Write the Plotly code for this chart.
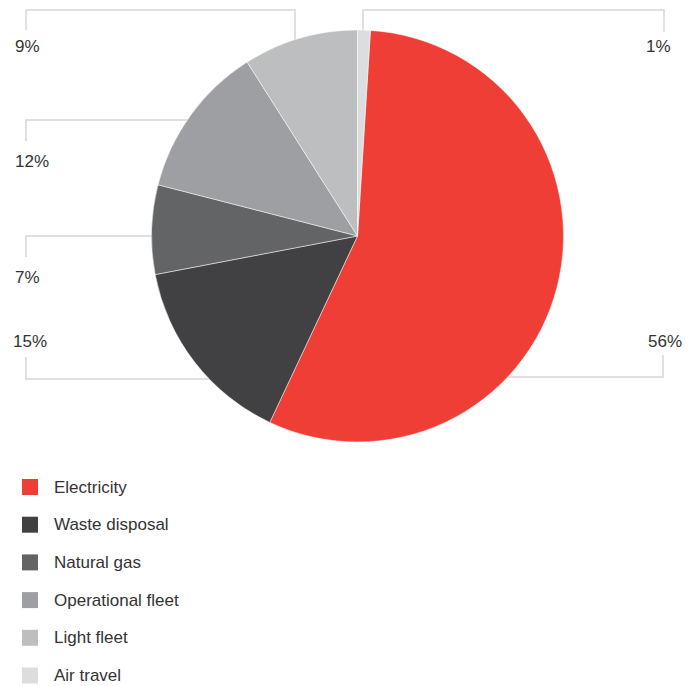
import plotly.graph_objects as go

# Emission sources, shares (%) and slice colours
categories = ["Electricity", "Waste disposal", "Natural gas",
              "Operational fleet", "Light fleet", "Air travel"]
shares = [56, 15, 7, 12, 9, 1]
colors = ["#ef3e36", "#414042", "#636466", "#9d9fa2", "#bcbec0", "#dcdddf"]

W, H = 697, 686
TEXT = "#333333"
LINE = "#d6d6d6"
FONT = "Liberation Sans, Arial, sans-serif"


def px(x):
    return x / W


def py(y):
    return 1 - y / H


# Pie placement (pixels)
cx, cy, r = 357.5, 236, 206

fig = go.Figure()
fig.add_trace(go.Pie(
    labels=categories,
    values=shares,
    sort=False,
    direction="clockwise",
    rotation=shares[-1] * 3.6,
    marker=dict(colors=colors, line=dict(color="white", width=0.5)),
    textinfo="none",
    hoverinfo="label+percent",
    showlegend=False,
    domain=dict(x=[px(cx - r), px(cx + r)], y=[py(cy + r), py(cy - r)]),
))

# Leader lines (pixel paths) and percentage label placement per category
leaders = {
    "Light fleet": dict(path=[(26, 30), (26, 10), (295, 10), (295, 44)],
                        label=(13, 47), anchor="left"),
    "Air travel": dict(path=[(363, 36), (363, 10), (664, 10), (664, 32)],
                       label=(673, 46), anchor="right"),
    "Operational fleet": dict(path=[(26, 141), (26, 120), (195, 120)],
                              label=(13, 161), anchor="left"),
    "Natural gas": dict(path=[(26, 257), (26, 236), (160, 236)],
                        label=(13, 277), anchor="left"),
    "Waste disposal": dict(path=[(26, 357), (26, 379), (215, 379)],
                           label=(11, 342), anchor="left"),
    "Electricity": dict(path=[(500, 377), (663, 377), (663, 355)],
                        label=(684, 341), anchor="right"),
}

shapes = []
annotations = []
for cat, val in zip(categories, shares):
    spec = leaders[cat]
    pts = spec["path"]
    d = "M " + " L ".join(f"{px(x):.5f},{py(y):.5f}" for x, y in pts)
    shapes.append(dict(type="path", path=d, xref="paper", yref="paper",
                       line=dict(color=LINE, width=1.5), layer="below"))
    lx, ly = spec["label"]
    annotations.append(dict(
        x=px(lx), y=py(ly), xref="paper", yref="paper",
        xanchor=spec["anchor"], yanchor="middle", showarrow=False,
        text=f"{val}%", font=dict(family=FONT, size=17, color=TEXT),
    ))

# Legend: coloured squares with category names
leg_top, leg_step = 487, 37.7
for i, (cat, col) in enumerate(zip(categories, colors)):
    yc = leg_top + i * leg_step
    shapes.append(dict(type="rect", xref="paper", yref="paper",
                       x0=px(22), x1=px(38), y0=py(yc + 8), y1=py(yc - 8),
                       fillcolor=col, line=dict(width=0)))
    annotations.append(dict(
        x=px(52), y=py(yc), xref="paper", yref="paper",
        xanchor="left", yanchor="middle", showarrow=False,
        text=cat, font=dict(family=FONT, size=17, color=TEXT),
    ))

fig.update_layout(
    width=W, height=H,
    margin=dict(l=0, r=0, t=0, b=0),
    paper_bgcolor="white",
    plot_bgcolor="white",
    shapes=shapes,
    annotations=annotations,
    showlegend=False,
)

fig.write_html("out.html")
